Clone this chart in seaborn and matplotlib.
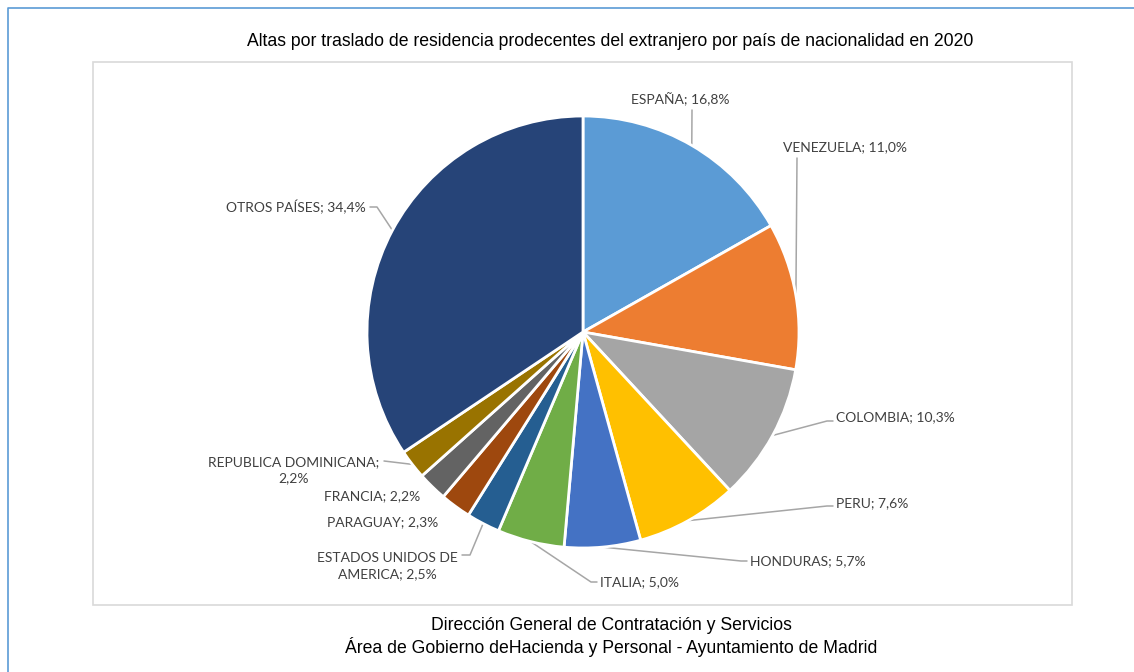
import matplotlib
matplotlib.use("Agg")
import matplotlib.pyplot as plt
from matplotlib.patches import Rectangle
import numpy as np
import seaborn as sns

# data
paises = ["ESPAÑA", "VENEZUELA", "COLOMBIA", "PERU", "HONDURAS", "ITALIA",
          "ESTADOS UNIDOS DE\nAMERICA", "PARAGUAY", "FRANCIA",
          "REPUBLICA DOMINICANA;\n", "OTROS PAÍSES"]
porcentajes = [16.8, 11.0, 10.3, 7.6, 5.7, 5.0, 2.5, 2.3, 2.2, 2.2, 34.4]
colores = ["#5B9BD5", "#ED7D31", "#A5A5A5", "#FFC000", "#4472C4", "#70AD47",
           "#255E91", "#9E480E", "#636363", "#997300", "#264478"]

titulo = "Altas por traslado de residencia prodecentes del extranjero por país de nacionalidad en 2020"
pie_1 = "Dirección General de Contratación y Servicios"
pie_2 = "Área de Gobierno deHacienda y Personal - Ayuntamiento de Madrid"

W, H = 1134, 672
sns.set_style("white")
plt.rcParams["font.family"] = ["Liberation Sans", "DejaVu Sans"]

fig = plt.figure(figsize=(W / 100, H / 100), dpi=100)
ax = fig.add_axes([0, 0, 1, 1])


def Y(y):
    # image row -> axis y
    return H - y


cx, cy, r = 583, Y(332), 216
wedges, _ = ax.pie(porcentajes, colors=sns.color_palette(colores),
                   startangle=90, counterclock=False,
                   center=(cx, cy), radius=r,
                   wedgeprops=dict(edgecolor="white", linewidth=2))
ax.set_xlim(0, W)
ax.set_ylim(0, H)
ax.set_aspect("equal")
ax.axis("off")

# outer frame (blue) and plot area (gray)
ax.plot([8, 8, W], [0, Y(7.5), Y(7.5)], color="#5B9BD5", lw=1.2)
ax.add_patch(Rectangle((93, Y(605)), 979, 543, fill=False,
                       edgecolor="#D9D9D9", lw=1.2))

# label layout: (x, y, ha, leader points in image coords)
layout = [
    (680, 99, "center", [(692, 110)]),
    (845, 147, "center", [(797, 158)]),
    (836, 417, "left", [(833, 421), (827, 421)]),
    (836, 503, "left", [(833, 506), (827, 506)]),
    (750, 561, "left", [(747, 561), (741, 561)]),
    (600, 582, "left", [(597, 582), (591, 582)]),
    (387, 566, "center", [(462, 555), (470, 555)]),
    (383, 522, "center", None),
    (372, 496, "center", None),
    (294, 470, "center", [(384, 461)]),
    (296, 207, "center", [(370, 207), (377, 207)]),
]

lab_font = dict(family=["Lato", "DejaVu Sans"], size=10, color="#404040")
for w, nombre, val, (tx, ty, ha, pts) in zip(wedges, paises, porcentajes, layout):
    valor = f"{val:.1f}%".replace(".", ",")
    if nombre.endswith(";\n"):
        s = f"{nombre}{valor}"
    else:
        s = f"{nombre}; {valor}"
    ax.text(tx, Y(ty), s, ha=ha, va="center", linespacing=1.45, **lab_font)
    if pts:
        ang = np.deg2rad((w.theta1 + w.theta2) / 2)
        ax_x = cx + r * np.cos(ang)
        ax_y = cy + r * np.sin(ang)
        xs = [p[0] for p in pts] + [ax_x]
        ys = [Y(p[1]) for p in pts] + [ax_y]
        ax.plot(xs, ys, color="#A6A6A6", lw=1.1, zorder=0.5)

ax.text(610, Y(42), titulo, ha="center", va="center", fontsize=12.7, color="black")
ax.text(611, Y(625), pie_1, ha="center", va="center", fontsize=12.7, color="black")
ax.text(611, Y(647), pie_2, ha="center", va="center", fontsize=12.7, color="black")

fig.savefig("out.png", dpi=100)
